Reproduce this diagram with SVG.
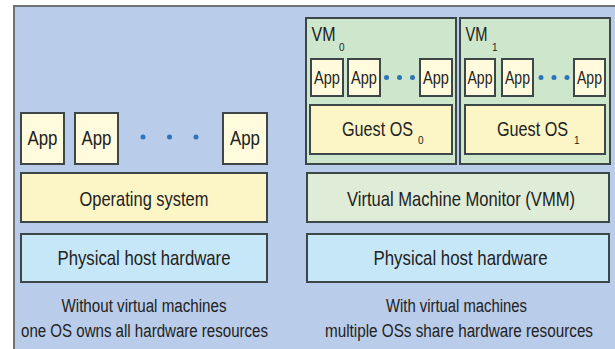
<svg xmlns="http://www.w3.org/2000/svg" width="615" height="349" viewBox="0 0 615 349">
<style>
  .box { stroke: #3e4747; stroke-width: 2; }
  .app { fill: #fffbdc; }
  .os { fill: #fcf5c6; }
  .hw { fill: #c6e7f8; }
  .vm { fill: #cee6cc; }
  .vmm { fill: #dfecd8; }
  .dot { fill: #2f74b8; }
  text { font-family: "Liberation Sans", Arial, sans-serif; fill: #222; }
  .lbl { font-size: 21px; }
  .applbl { font-size: 20px; }
  .vapp { font-size: 19px; }
  .cap { font-size: 18px; }
  .sub { font-size: 10px; }
  .mid { text-anchor: middle; }
</style>
<rect width="615" height="349" fill="#ffffff"/>
<rect x="14" y="6" width="610" height="350" fill="#b9cce9" stroke="#6f7272" stroke-width="2"/>

<g id="left-app1"><rect class="box app" x="21" y="113" width="43" height="51"/><text class="applbl mid" x="42.5" y="145" textLength="30" lengthAdjust="spacingAndGlyphs">App</text></g>
<g id="left-app2"><rect class="box app" x="75" y="113" width="43" height="51"/><text class="applbl mid" x="96.5" y="145" textLength="30" lengthAdjust="spacingAndGlyphs">App</text></g>
<g id="left-dots"><circle class="dot" cx="143" cy="137" r="2.5"/><circle class="dot" cx="169.5" cy="137" r="2.5"/><circle class="dot" cx="196" cy="137" r="2.5"/></g>
<g id="left-app3"><rect class="box app" x="223" y="113" width="44" height="51"/><text class="applbl mid" x="245" y="145" textLength="30" lengthAdjust="spacingAndGlyphs">App</text></g>
<g id="left-os"><rect class="box os" x="21" y="173" width="246" height="49"/><text class="lbl mid" x="144" y="206" textLength="129" lengthAdjust="spacingAndGlyphs">Operating system</text></g>
<g id="left-hw"><rect class="box hw" x="21" y="234" width="246" height="48"/><text class="lbl mid" x="144" y="265" textLength="173" lengthAdjust="spacingAndGlyphs">Physical host hardware</text></g>
<g id="left-caption"><text class="cap mid" x="144" y="312" textLength="165" lengthAdjust="spacingAndGlyphs">Without virtual machines</text><text class="cap mid" x="144.5" y="337" textLength="247" lengthAdjust="spacingAndGlyphs">one OS owns all hardware resources</text></g>

<g id="vm0">
  <rect class="box vm" x="306" y="18" width="150" height="146"/>
  <text class="lbl" x="311.5" y="41" textLength="24" lengthAdjust="spacingAndGlyphs">VM</text><text class="sub" x="339" y="51">0</text>
  <g id="vm0-app1"><rect class="box app" x="311" y="59" width="32" height="37"/><text class="vapp mid" x="327" y="84" textLength="26" lengthAdjust="spacingAndGlyphs">App</text></g>
  <g id="vm0-app2"><rect class="box app" x="348" y="59" width="32" height="37"/><text class="vapp mid" x="364" y="84" textLength="26" lengthAdjust="spacingAndGlyphs">App</text></g>
  <circle class="dot" cx="386.5" cy="77.5" r="2.5"/><circle class="dot" cx="399.5" cy="77.5" r="2.5"/><circle class="dot" cx="412.5" cy="77.5" r="2.5"/>
  <g id="vm0-app3"><rect class="box app" x="420" y="59" width="32" height="37"/><text class="vapp mid" x="436" y="84" textLength="26" lengthAdjust="spacingAndGlyphs">App</text></g>
  <g id="guest-os0"><rect class="box os" x="310" y="105" width="142" height="49"/><text class="lbl" x="342" y="136" textLength="71" lengthAdjust="spacingAndGlyphs">Guest OS</text><text class="sub" x="418" y="144">0</text></g>
</g>

<g id="vm1">
  <rect class="box vm" x="460" y="18" width="150" height="146"/>
  <text class="lbl" x="465.5" y="41" textLength="22" lengthAdjust="spacingAndGlyphs">VM</text><text class="sub" x="492" y="51">1</text>
  <g id="vm1-app1"><rect class="box app" x="465" y="59" width="30" height="37"/><text class="vapp mid" x="480" y="84" textLength="25" lengthAdjust="spacingAndGlyphs">App</text></g>
  <g id="vm1-app2"><rect class="box app" x="502" y="59" width="31" height="37"/><text class="vapp mid" x="517.5" y="84" textLength="25" lengthAdjust="spacingAndGlyphs">App</text></g>
  <circle class="dot" cx="541" cy="77.5" r="2.5"/><circle class="dot" cx="554" cy="77.5" r="2.5"/><circle class="dot" cx="567" cy="77.5" r="2.5"/>
  <g id="vm1-app3"><rect class="box app" x="574" y="59" width="31" height="37"/><text class="vapp mid" x="589.5" y="84" textLength="25" lengthAdjust="spacingAndGlyphs">App</text></g>
  <g id="guest-os1"><rect class="box os" x="465" y="105" width="140" height="49"/><text class="lbl" x="497" y="136" textLength="71" lengthAdjust="spacingAndGlyphs">Guest OS</text><text class="sub" x="574" y="144">1</text></g>
</g>

<g id="vmm"><rect class="box vmm" x="307" y="173" width="302" height="49"/><text class="lbl mid" x="461" y="206" textLength="228" lengthAdjust="spacingAndGlyphs">Virtual Machine Monitor (VMM)</text></g>
<g id="right-hw"><rect class="box hw" x="307" y="234" width="302" height="48"/><text class="lbl mid" x="460.5" y="265" textLength="174" lengthAdjust="spacingAndGlyphs">Physical host hardware</text></g>
<g id="right-caption"><text class="cap mid" x="456.5" y="312" textLength="141" lengthAdjust="spacingAndGlyphs">With virtual machines</text><text class="cap mid" x="459" y="337" textLength="268" lengthAdjust="spacingAndGlyphs">multiple OSs share hardware resources</text></g>

<g id="connectors"/>
</svg>
